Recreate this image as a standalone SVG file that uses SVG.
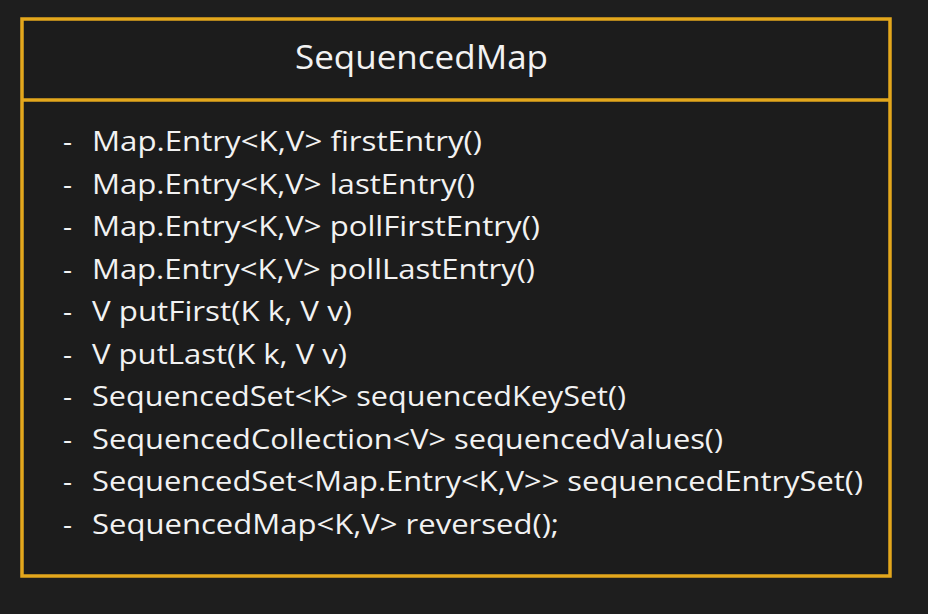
<svg xmlns="http://www.w3.org/2000/svg" width="928" height="614" viewBox="0 0 928 614">
<style>
.bg{fill:#1e1e1e}
.box{fill:#1c1c1c;stroke:#e3a71c;stroke-width:3.5}
.div{stroke:#e3a71c;stroke-width:3.5}
.t{font-family:"Open Sans",Lato,"Liberation Sans",sans-serif;fill:#f2f2f2}
.title{font-size:32px}
.m{font-size:28px}
</style>
<rect class="bg" x="0" y="0" width="928" height="614"/>
<g id="SequencedMap">
<rect class="box" x="22" y="19" width="868" height="557"/>
<line class="div" x1="22" y1="100" x2="890" y2="100"/>
<text class="t title" x="295" y="69" textLength="253" lengthAdjust="spacingAndGlyphs">SequencedMap</text>
<g class="t m">
<text x="63" y="151">-</text><text x="92" y="151" textLength="390" lengthAdjust="spacingAndGlyphs">Map.Entry&lt;K,V&gt; firstEntry()</text>
<text x="63" y="194">-</text><text x="92" y="194" textLength="383" lengthAdjust="spacingAndGlyphs">Map.Entry&lt;K,V&gt; lastEntry()</text>
<text x="63" y="236">-</text><text x="92" y="236" textLength="448" lengthAdjust="spacingAndGlyphs">Map.Entry&lt;K,V&gt; pollFirstEntry()</text>
<text x="63" y="279">-</text><text x="92" y="279" textLength="443" lengthAdjust="spacingAndGlyphs">Map.Entry&lt;K,V&gt; pollLastEntry()</text>
<text x="63" y="321">-</text><text x="92" y="321" textLength="260" lengthAdjust="spacingAndGlyphs">V putFirst(K k, V v)</text>
<text x="63" y="364">-</text><text x="92" y="364" textLength="255" lengthAdjust="spacingAndGlyphs">V putLast(K k, V v)</text>
<text x="63" y="406">-</text><text x="92" y="406" textLength="534" lengthAdjust="spacingAndGlyphs">SequencedSet&lt;K&gt; sequencedKeySet()</text>
<text x="63" y="449">-</text><text x="92" y="449" textLength="631" lengthAdjust="spacingAndGlyphs">SequencedCollection&lt;V&gt; sequencedValues()</text>
<text x="63" y="491">-</text><text x="92" y="491" textLength="771" lengthAdjust="spacingAndGlyphs">SequencedSet&lt;Map.Entry&lt;K,V&gt;&gt; sequencedEntrySet()</text>
<text x="63" y="534">-</text><text x="92" y="534" textLength="467" lengthAdjust="spacingAndGlyphs">SequencedMap&lt;K,V&gt; reversed();</text>
</g>
</g>
</svg>
